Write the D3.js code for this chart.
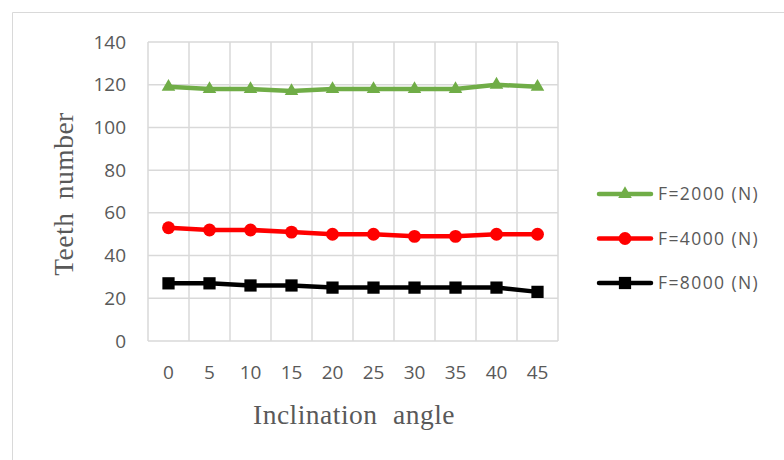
<!DOCTYPE html>
<html><head><meta charset="utf-8">
<script src="https://cdn.jsdelivr.net/npm/d3@7"></script>
<style>body{margin:0;background:#fff}svg{display:block}</style>
</head><body>
<svg id="c" width="784" height="460"></svg>
<script>
const categories = ["0","5","10","15","20","25","30","35","40","45"];
const f2000 = [119,118,118,117,118,118,118,118,120,119];
const f4000 = [53,52,52,51,50,50,49,49,50,50];
const f8000 = [27,27,26,26,25,25,25,25,25,23];
const yTicks = [0,20,40,60,80,100,120,140];
const seriesNames = ["F=2000 (N)","F=4000 (N)","F=8000 (N)"];

const svg = d3.select("#c");
const m = {l:148, r:558, t:42, b:341};
const x = d3.scaleBand().domain(categories).range([m.l, m.r]);
const y = d3.scaleLinear().domain([0,140]).range([m.b, m.t]);

// outer frame
svg.append("path").attr("d","M12.5,460 V12.5 H784").attr("fill","none").attr("stroke","#d9d9d9");

// grid
const g = svg.append("g");
g.selectAll("line.h").data(yTicks).join("line")
  .attr("x1",m.l).attr("x2",m.r).attr("y1",d=>y(d)).attr("y2",d=>y(d))
  .attr("stroke","#d9d9d9").attr("stroke-width",1.5);
const bounds = categories.map(c=>x(c)).concat([m.r]);
g.selectAll("line.v").data(bounds).join("line")
  .attr("x1",d=>d).attr("x2",d=>d).attr("y1",m.t).attr("y2",m.b)
  .attr("stroke","#d9d9d9").attr("stroke-width",1.5);

// axes labels via d3 axes
const yAxis = svg.append("g").attr("transform",`translate(${m.l},0)`)
  .call(d3.axisLeft(y).tickValues(yTicks).tickSize(0).tickPadding(22));
yAxis.select(".domain").remove();
yAxis.selectAll("text").attr("font-family","Open Sans").attr("font-size",19).attr("fill","#595959");
const xAxis = svg.append("g").attr("transform",`translate(0,${m.b})`)
  .call(d3.axisBottom(x).tickSize(0).tickPadding(25));
xAxis.select(".domain").remove();
xAxis.selectAll("text").attr("font-family","Open Sans").attr("font-size",19).attr("fill","#595959");

// titles
svg.append("text").attr("x",354).attr("y",424).attr("text-anchor","middle")
  .attr("font-family","Liberation Serif").attr("font-size",27.5).attr("fill","#595959")
  .attr("letter-spacing",0.5).attr("word-spacing",8).text("Inclination angle");
svg.append("text").attr("transform","translate(73,194) rotate(-90)").attr("text-anchor","middle")
  .attr("font-family","Liberation Serif").attr("font-size",27.5).attr("fill","#595959")
  .attr("letter-spacing",0.5).attr("word-spacing",6).text("Teeth number");

const series = [
  {name:seriesNames[0], vals:f2000, color:"#70ad47", sym:d3.symbolTriangle, size:80},
  {name:seriesNames[1], vals:f4000, color:"#ff0000", sym:d3.symbolCircle, size:130},
  {name:seriesNames[2], vals:f8000, color:"#000000", sym:d3.symbolSquare, size:150},
];
const cx = c => x(c) + x.bandwidth()/2;
const line = d3.line().x((d,i)=>cx(categories[i])).y(d=>y(d));
series.forEach(s=>{
  svg.append("path").attr("d",line(s.vals)).attr("fill","none")
    .attr("stroke",s.color).attr("stroke-width",4.5).attr("stroke-linejoin","round");
  svg.selectAll(null).data(s.vals).join("path")
    .attr("transform",(d,i)=>`translate(${cx(categories[i])},${y(d)})`)
    .attr("d",d3.symbol(s.sym,s.size)).attr("fill",s.color);
});

// legend
const lg = svg.append("g");
series.forEach((s,i)=>{
  const yy = 194 + i*44.5;
  lg.append("line").attr("x1",599).attr("x2",651).attr("y1",yy).attr("y2",yy)
    .attr("stroke",s.color).attr("stroke-width",4.5).attr("stroke-linecap","round");
  lg.append("path").attr("transform",`translate(625,${yy})`).attr("d",d3.symbol(s.sym,s.size)).attr("fill",s.color);
  lg.append("text").attr("x",658).attr("y",yy).attr("dy","0.36em")
    .attr("font-family","Open Sans").attr("font-size",17.5).attr("letter-spacing",1.4)
    .attr("fill","#595959").text(s.name);
});
</script>
</body></html>
